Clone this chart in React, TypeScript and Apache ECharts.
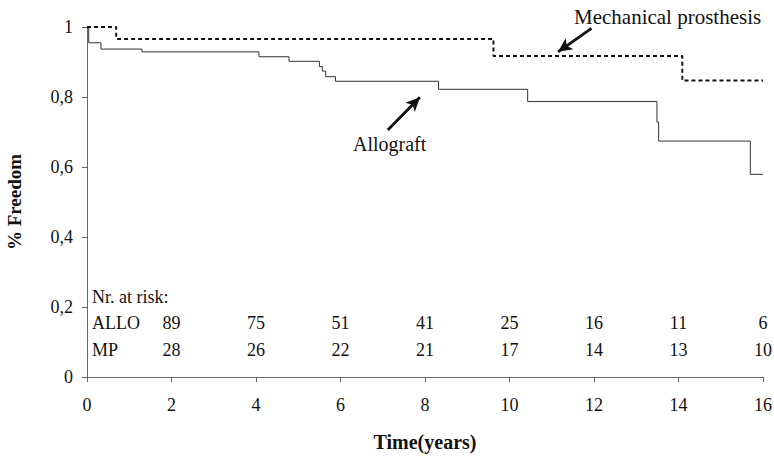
import React, { useEffect, useRef } from "react";
import * as echarts from "echarts";

// Kaplan–Meier estimates: [time in years, freedom from event]
const allograftCurve: [number, number][] = [
  [0, 1], [0.04, 0.955], [0.33, 0.937], [1.3, 0.929], [4.07, 0.915],
  [4.78, 0.902], [5.5, 0.887], [5.57, 0.874], [5.65, 0.858], [5.88, 0.845],
  [8.32, 0.822], [10.43, 0.787], [13.49, 0.728], [13.53, 0.674],
  [15.7, 0.579], [16, 0.579],
];
const prosthesisCurve: [number, number][] = [
  [0, 1], [0.69, 0.966], [9.62, 0.917], [14.09, 0.847], [16, 0.847],
];

// Number at risk table
const riskTimes = [2, 4, 6, 8, 10, 12, 14, 16];
const riskAllo = [89, 75, 51, 41, 25, 16, 11, 6];
const riskMp = [28, 26, 22, 21, 17, 14, 13, 10];
const riskRowLabels = ["Nr. at risk:", "ALLO", "MP"];
const riskRowY = [0.229, 0.153, 0.077];

const xTicks = { min: 0, max: 16, interval: 2 };
const yTicks = { min: 0, max: 1, interval: 0.2 };

const FONT = "Liberation Serif";

export default function App() {
  const ref = useRef<HTMLDivElement>(null);

  useEffect(() => {
    document.body.style.margin = "0";
    if (!ref.current) return;
    const chart = echarts.init(ref.current, null, { renderer: "svg" });

    const riskData = [
      ...riskTimes.map((t, i) => [t, riskRowY[1], riskAllo[i]]),
      ...riskTimes.map((t, i) => [t, riskRowY[2], riskMp[i]]),
    ];
    const rowData = riskRowLabels.map((s, i) => [0, riskRowY[i], s]);

    const axisLine = { show: true, lineStyle: { color: "#666", width: 1 } };

    chart.setOption({
      animation: false,
      backgroundColor: "#fff",
      grid: { left: 87, right: 11, top: 27, bottom: 79, containLabel: false, outerBoundsMode: "none" },
      xAxis: {
        type: "value",
        ...xTicks,
        name: "Time(years)",
        nameLocation: "middle",
        nameGap: 55,
        nameTextStyle: { fontFamily: FONT, fontWeight: "bold", fontSize: 20, color: "#111" },
        axisLine,
        axisTick: { show: true, length: 5, lineStyle: { color: "#666" } },
        axisLabel: { fontFamily: FONT, fontSize: 18, color: "#111", margin: 19 },
        splitLine: { show: false },
      },
      yAxis: {
        type: "value",
        ...yTicks,
        name: "% Freedom",
        nameLocation: "middle",
        nameRotate: 90,
        nameGap: 63,
        nameTextStyle: { fontFamily: FONT, fontWeight: "bold", fontSize: 19, color: "#111" },
        axisLine,
        axisTick: { show: true, length: 5, lineStyle: { color: "#666" } },
        axisLabel: {
          fontFamily: FONT,
          fontSize: 18,
          color: "#111",
          margin: 14,
          formatter: (v: number) => String(+v.toFixed(1)).replace(".", ","),
        },
        splitLine: { show: false },
      },
      series: [
        {
          name: "Allograft",
          type: "line",
          step: "end",
          data: allograftCurve,
          showSymbol: false,
          lineStyle: { color: "#333", width: 1 },
          markLine: {
            silent: true,
            symbol: ["none", "arrow"],
            symbolSize: [10, 14],
            label: { show: false },
            lineStyle: { color: "#111", width: 2.8, type: "solid" },
            data: [
              [{ coord: [7.12, 0.706] }, { coord: [7.88, 0.799] }],
              [{ coord: [11.94, 0.996] }, { coord: [11.15, 0.929] }],
            ],
          },
        },
        {
          name: "Mechanical prosthesis",
          type: "line",
          step: "end",
          data: prosthesisCurve,
          showSymbol: false,
          lineStyle: { color: "#111", width: 2, type: [4, 3] },
        },
        {
          type: "scatter",
          data: riskData,
          symbolSize: 0,
          itemStyle: { color: "transparent", opacity: 1 },
          label: {
            show: true,
            position: "inside",
            formatter: (p: any) => String(p.value[2]),
            fontFamily: FONT,
            fontSize: 18,
            color: "#111",
          },
        },
        {
          type: "scatter",
          data: rowData,
          symbolSize: 0,
          itemStyle: { color: "transparent", opacity: 1 },
          label: {
            show: true,
            position: "right",
            distance: 5,
            formatter: (p: any) => String(p.value[2]),
            fontFamily: FONT,
            fontSize: 18,
            color: "#111",
          },
        },
      ],
      graphic: [
        {
          type: "text",
          left: 574,
          top: 6,
          style: { text: "Mechanical prosthesis", fontFamily: FONT, fontSize: 21, fill: "#111" },
        },
        {
          type: "text",
          left: 353,
          top: 134,
          style: { text: "Allograft", fontFamily: FONT, fontSize: 20, fill: "#111" },
        },
      ],
    });

    return () => chart.dispose();
  }, []);

  return <div ref={ref} style={{ width: 774, height: 456 }} />;
}
